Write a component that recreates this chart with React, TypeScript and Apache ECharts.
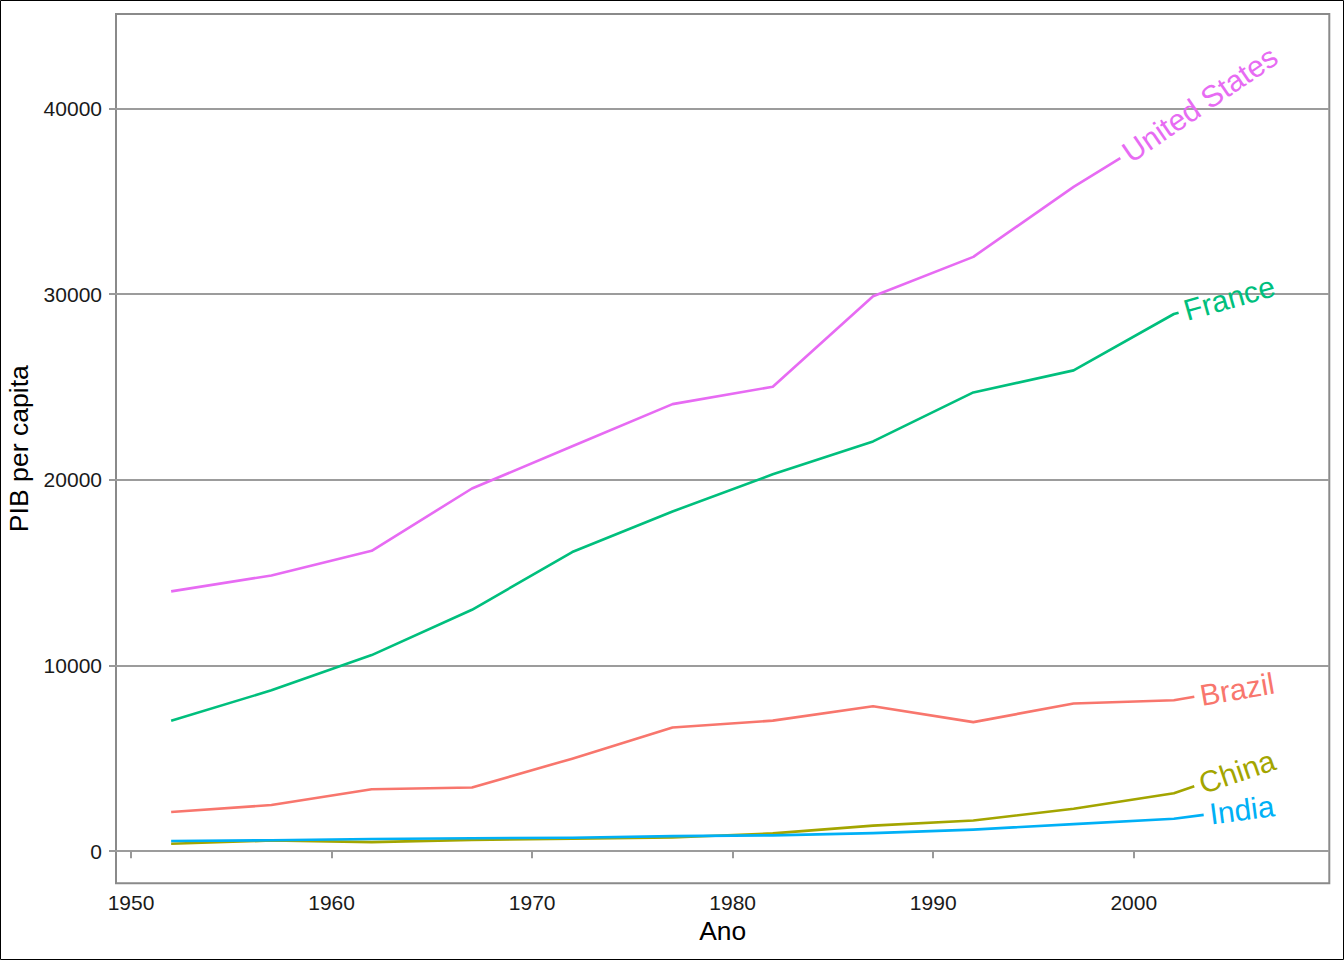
import React, { useEffect, useRef } from "react";
import * as echarts from "echarts";

const years = [1952, 1957, 1962, 1967, 1972, 1977, 1982, 1987, 1992, 1997, 2002, 2007];
const countries = ["Brazil", "China", "France", "India", "United States"];
const brazil = [2108.944, 2487.366, 3336.586, 3429.864, 4985.711, 6660.119, 7030.836, 7807.096, 6950.283, 7957.981, 8131.213, 9065.801];
const china = [400.449, 575.987, 487.674, 612.706, 676.9, 741.237, 962.421, 1378.904, 1655.784, 2289.234, 3119.281, 4959.115];
const france = [7029.809, 8662.835, 10560.486, 12999.918, 16107.192, 18292.635, 20293.897, 22066.442, 24703.796, 25889.785, 28926.032, 30470.017];
const india = [546.566, 590.062, 658.347, 700.77, 724.033, 813.337, 855.723, 976.512, 1164.407, 1458.817, 1746.769, 2452.21];
const unitedStates = [13990.482, 14847.127, 16173.146, 19530.366, 21806.036, 24072.632, 25009.559, 29884.35, 32003.932, 35767.433, 39097.1, 42951.653];
const seriesValues = [brazil, china, france, india, unitedStates];
const colors = ["#F8766D", "#A3A500", "#00BF7D", "#00B0F6", "#E76BF3"];
const xTicks = [1950, 1960, 1970, 1980, 1990, 2000];
const yTicks = [0, 10000, 20000, 30000, 40000];

const FONT = '"Liberation Sans", Arial, Helvetica, sans-serif';
const LABEL_SIZE = 30;
const GAP = 6;

function measure(text: string, size: number): number {
  const c = document.createElement("canvas");
  const ctx = c.getContext("2d");
  if (!ctx) return text.length * size * 0.5;
  ctx.font = `${size}px ${FONT}`;
  return ctx.measureText(text).width;
}

export default function App() {
  const ref = useRef<HTMLDivElement>(null);
  useEffect(() => {
    if (!ref.current) return;
    const chart = echarts.init(ref.current, undefined, { renderer: "svg" });

    const allX = years;
    const allY = seriesValues.flat();
    const xr = Math.max(...allX) - Math.min(...allX);
    const yr = Math.max(...allY) - Math.min(...allY);
    const xMin = Math.min(...allX) - 0.05 * xr;
    const xMax = Math.max(...allX) + 0.05 * xr;
    const yMin = Math.min(...allY) - 0.05 * yr;
    const yMax = Math.max(...allY) + 0.05 * yr;

    const labelWidths = countries.map((c) => measure(c, LABEL_SIZE));
    const last = years.length - 1;

    const renderItem = (params: any, api: any) => {
      const k = api.value(2) as number;
      const vals = seriesValues[k];
      const pts: number[][] = years.map((y, j) => api.coord([y, vals[j]]));
      const cum = [0];
      for (let i = 1; i < pts.length; i++) {
        cum.push(cum[i - 1] + Math.hypot(pts[i][0] - pts[i - 1][0], pts[i][1] - pts[i - 1][1]));
      }
      const L = cum[cum.length - 1];
      const pointAt = (s: number) => {
        for (let i = 1; i < pts.length; i++) {
          if (cum[i] >= s) {
            const t = (s - cum[i - 1]) / (cum[i] - cum[i - 1] || 1);
            return [pts[i - 1][0] + t * (pts[i][0] - pts[i - 1][0]), pts[i - 1][1] + t * (pts[i][1] - pts[i - 1][1])];
          }
        }
        return pts[pts.length - 1];
      };
      const tw = labelWidths[k];
      const tStart = L - tw;
      const lineEnd = tStart - GAP;
      const linePts: number[][] = [];
      for (let i = 0; i < pts.length; i++) {
        if (cum[i] < lineEnd) linePts.push(pts[i]);
      }
      linePts.push(pointAt(lineEnd));
      const a = pointAt(tStart);
      const b = pointAt(L);
      const ang = Math.atan2(b[1] - a[1], b[0] - a[0]);
      return {
        type: "group",
        children: [
          {
            type: "polyline",
            shape: { points: linePts },
            style: { stroke: colors[k], lineWidth: 2.6, fill: "none", lineJoin: "round" },
          },
          {
            type: "text",
            x: (a[0] + b[0]) / 2,
            y: (a[1] + b[1]) / 2,
            rotation: -ang,
            style: {
              text: countries[k],
              fill: colors[k],
              fontSize: LABEL_SIZE,
              fontFamily: FONT,
              align: "center",
              verticalAlign: "middle",
            },
          },
        ],
      };
    };

    chart.setOption({
      animation: false,
      backgroundColor: "#ffffff",
      grid: {
        left: 116,
        right: 14.7,
        top: 14,
        bottom: 76.7,
        show: true,
        borderColor: "#8a8a8a",
        borderWidth: 2,
        backgroundColor: "#ffffff",
        containLabel: false,
        outerBoundsMode: "none",
      },
      xAxis: {
        type: "value",
        min: xMin,
        max: xMax,
        axisLine: { show: false },
        splitLine: { show: false },
        axisTick: { show: true, length: 7, customValues: xTicks, lineStyle: { color: "#999999", width: 2 } },
        axisLabel: {
          customValues: xTicks,
          margin: 9,
          fontSize: 21,
          color: "#1a1a1a",
          fontFamily: FONT,
          formatter: (v: number) => String(v),
        },
        name: "Ano",
        nameLocation: "middle",
        nameGap: 35,
        nameTextStyle: { fontSize: 26.4, color: "#000000", fontFamily: FONT },
      },
      yAxis: {
        type: "value",
        min: yMin,
        max: yMax,
        axisLine: { show: false },
        splitLine: { show: true, lineStyle: { color: "#9c9c9c", width: 2 } },
        axisTick: { show: true, length: 7, customValues: yTicks, lineStyle: { color: "#999999", width: 2 } },
        axisLabel: {
          customValues: yTicks,
          margin: 14,
          fontSize: 21,
          color: "#1a1a1a",
          fontFamily: FONT,
          formatter: (v: number) => String(v),
        },
        name: "PIB per capita",
        nameLocation: "middle",
        nameGap: 74,
        nameTextStyle: { fontSize: 26.6, color: "#000000", fontFamily: FONT },
      },
      series: [
        {
          type: "custom",
          coordinateSystem: "cartesian2d",
          clip: false,
          encode: { x: 0, y: 1 },
          data: countries.map((c, k) => [years[last], seriesValues[k][last], k]),
          renderItem,
        },
      ],
      graphic: [
        {
          type: "rect",
          shape: { x: 0.5, y: 0.5, width: 1343, height: 959 },
          style: { fill: "none", stroke: "#000000", lineWidth: 1 },
          z: 100,
        },
      ],
    });
    return () => chart.dispose();
  }, []);
  return (
    <div
      ref={ref}
      style={{ position: "absolute", left: 0, top: 0, width: 1344, height: 960, background: "#fff" }}
    />
  );
}
